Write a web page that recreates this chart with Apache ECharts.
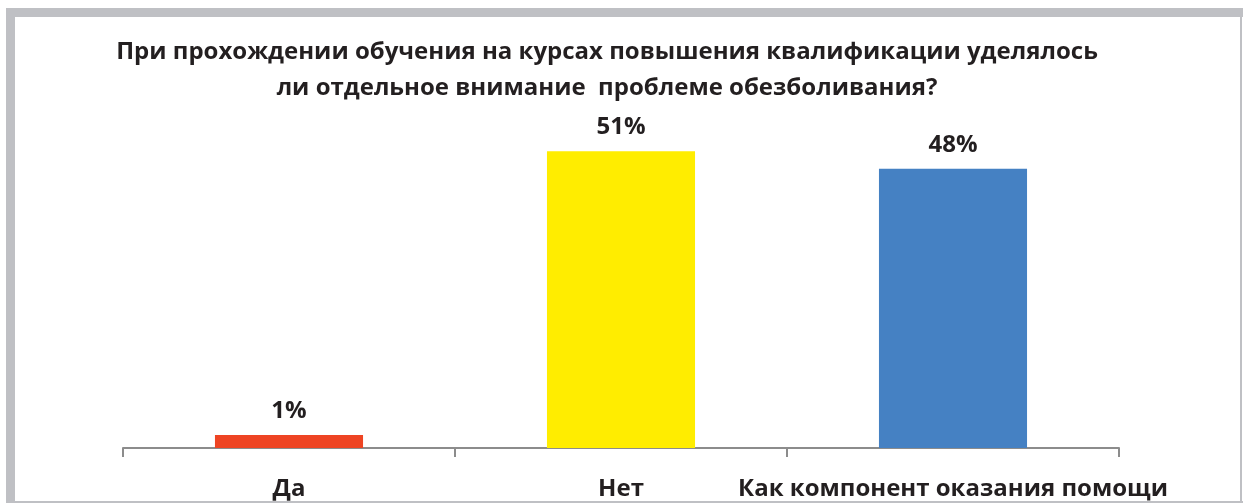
<!DOCTYPE html>
<html>
<head>
<meta charset="utf-8">
<script src="https://cdn.jsdelivr.net/npm/echarts@6/dist/echarts.min.js"></script>
<style>
  html, body { margin: 0; padding: 0; background: #ffffff; }
  #chart { width: 1243px; height: 503px; }
</style>
</head>
<body>
<div id="chart"></div>
<script>
const titleLines = [
  'При прохождении обучения на курсах повышения квалификации уделялось',
  'ли отдельное внимание  проблеме обезболивания?'
];
const categories = ['Да', 'Нет', 'Как компонент оказания помощи'];
const values = [1, 51, 48];
const barColors = ['#ee4423', '#ffed00', '#4581c3'];

const chart = echarts.init(document.getElementById('chart'), null, { renderer: 'canvas' });
const FONT = '"Open Sans", "Noto Sans", sans-serif';
const borderColor = '#bfc0c4';

chart.setOption({
  animation: false,
  backgroundColor: '#ffffff',
  title: {
    text: titleLines.join('\n'),
    left: 602,
    textAlign: 'center',
    top: 29,
    textStyle: {
      fontFamily: FONT,
      fontWeight: 'bold',
      fontSize: 24,
      lineHeight: 36,
      color: '#231f20'
    }
  },
  graphic: [
    { type: 'rect', shape: { x: 6, y: 8, width: 1237, height: 9 }, style: { fill: borderColor }, silent: true },
    { type: 'rect', shape: { x: 6, y: 8, width: 9, height: 495 }, style: { fill: borderColor }, silent: true },
    { type: 'rect', shape: { x: 6, y: 501, width: 1237, height: 2 }, style: { fill: borderColor }, silent: true },
    { type: 'rect', shape: { x: 1240, y: 8, width: 2, height: 495 }, style: { fill: borderColor }, silent: true }
  ],
  grid: { left: 123, right: 124, top: 99, bottom: 55, containLabel: false },
  xAxis: {
    type: 'category',
    data: categories,
    axisLine: { show: true, lineStyle: { color: '#8c8c8c', width: 2 } },
    axisTick: { show: true, length: 9, alignWithLabel: false, lineStyle: { color: '#8c8c8c', width: 2 } },
    axisLabel: {
      margin: 29,
      fontFamily: FONT,
      fontWeight: 'bold',
      fontSize: 24,
      color: '#231f20',
      interval: 0
    }
  },
  yAxis: {
    type: 'value',
    min: 0,
    max: 60,
    show: false,
    splitLine: { show: false }
  },
  series: [{
    type: 'bar',
    data: values.map((v, i) => ({ value: v, itemStyle: { color: barColors[i] } })),
    barWidth: '44.6%',
    barMinHeight: 13,
    label: {
      show: true,
      position: 'top',
      distance: 12,
      formatter: p => p.value + '%',
      fontFamily: FONT,
      fontWeight: 'bold',
      fontSize: 24,
      color: '#231f20'
    }
  }]
});
</script>
</body>
</html>
